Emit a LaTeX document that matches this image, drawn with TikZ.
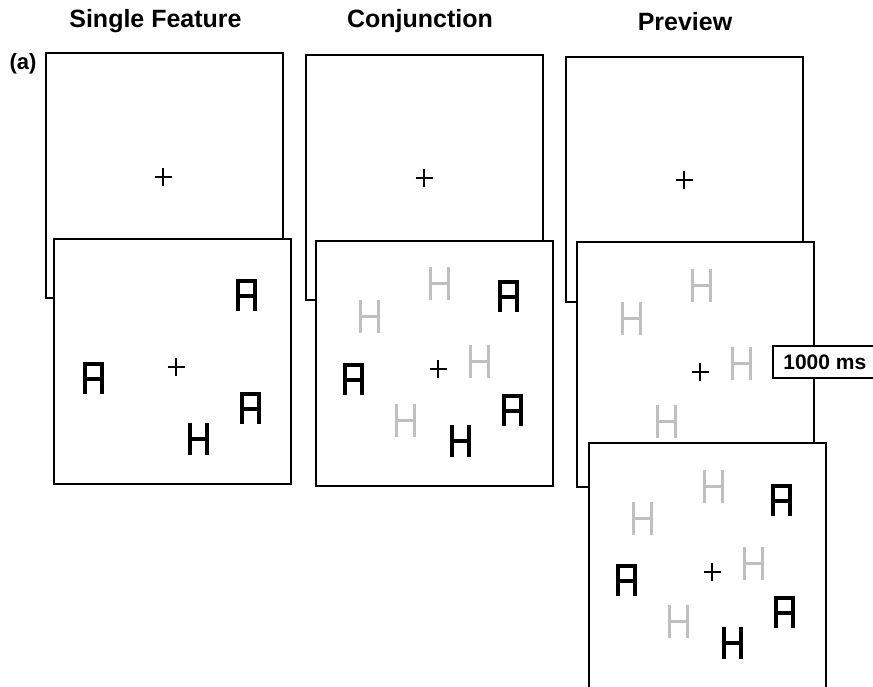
\documentclass[tikz,border=0pt]{standalone}
\usepackage{fontspec}
\setmainfont{Liberation Sans}
\usetikzlibrary{positioning, calc}

\begin{document}
\begin{tikzpicture}[
    x=1pt, y=-1pt,
    frame/.style  ={rectangle, draw, fill=white, line width=2pt, minimum width=237pt, minimum height=245pt, inner sep=0pt},
    title/.style  ={font=\fontsize{25}{30}\selectfont\bfseries},
    timing/.style ={rectangle, draw, fill=white, line width=1.6pt, minimum height=32pt, minimum width=104pt, anchor=west, font=\fontsize{21}{25}\selectfont\bfseries},
    fix/.pic      ={\draw[line width=2.8pt] (-8.5,0) -- (8.5,0) (0,-9) -- (0,9);}, % fixation cross
    letA/.pic     ={\draw[line width=4pt] (-8.5,16) -- (-8.5,-14) -- (8.5,-14) -- (8.5,16) (-8.5,1) -- (8.5,1);},
    letH/.pic     ={\draw[line width=4pt] (-8.5,-16) -- (-8.5,16) (8.5,-16) -- (8.5,16) (-8.5,0) -- (8.5,0);},
    distH/.pic    ={\draw[line width=3pt, gray!50] (-9,-16.5) -- (-9,16.5) (9,-16.5) -- (9,16.5) (-9,0) -- (9,0);}, % grey distractor
    ]

    \useasboundingbox (0,0) rectangle (873,686);

    % --- Back frames (fixation display) ---
    \node[frame] (sf_back)   at (164.5,175) {};
    \node[frame] (conj_back) at (424,177) {};
    \node[frame] (prev_back) at (684,179) {};

    \pic at (163,177) {fix};
    \pic at (424,178) {fix};
    \pic at (684,180) {fix};

    % --- Titles ---
    \node[title] (sf_title)   at ($(sf_back.north)+(-9,-30)$) {Single Feature};
    \node[title] (conj_title) at ($(conj_back.north)+(-4,-32)$) {Conjunction};
    \node[title] (prev_title) at ($(prev_back.north)+(1,-34)$) {Preview};
    \node[font=\fontsize{22}{26}\selectfont\bfseries] (panel_a) at (23,64) {(a)};

    % --- Single Feature search display ---
    \node[frame] (sf_front) at (172,361) {};
    \pic at (176,367) {fix};
    \pic at (246.5,295) {letA};
    \pic at (93,378) {letA};
    \pic at (250,408) {letA};
    \pic at (198,439) {letH};

    % --- Conjunction search display ---
    \node[frame] (conj_front) at (434,363) {};
    \pic at (438,369) {fix};
    \pic at (439,283) {distH};
    \pic at (369,316) {distH};
    \pic at (479,361) {distH};
    \pic at (405,420) {distH};
    \pic at (508,296) {letA};
    \pic at (353,379) {letA};
    \pic at (512,410) {letA};
    \pic at (460,441) {letH};

    % --- Preview: old items first ---
    \node[frame] (prev_mid) at (695.5,364) {};
    \pic at (700,372) {fix};
    \pic at (701,285) {distH};
    \pic at (631,318) {distH};
    \pic at (741,363) {distH};
    \pic at (666,421) {distH};
    \node[timing] (delay) at (772,362) {1000 ms};

    % --- Preview: full display ---
    \node[frame] (prev_front) at (707.5,565) {};
    \pic at (712,572) {fix};
    \pic at (713,486) {distH};
    \pic at (642,518) {distH};
    \pic at (753,563) {distH};
    \pic at (678,621) {distH};
    \pic at (781,500) {letA};
    \pic at (626,580) {letA};
    \pic at (784,612) {letA};
    \pic at (732,643) {letH};

\end{tikzpicture}
\end{document}
